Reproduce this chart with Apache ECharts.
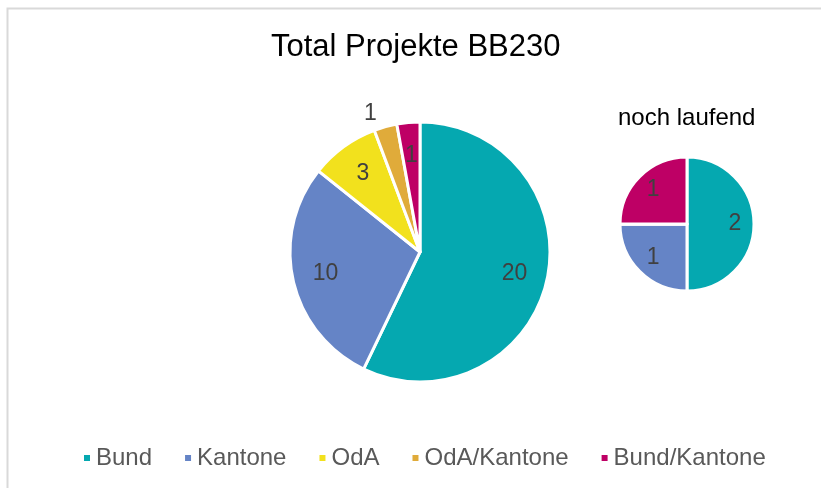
<!DOCTYPE html>
<html>
<head>
<meta charset="utf-8">
<script src="https://cdn.jsdelivr.net/npm/echarts@6/dist/echarts.min.js"></script>
<style>
  html, body { margin: 0; padding: 0; background: #fff; }
  #main { width: 821px; height: 488px; }
</style>
</head>
<body>
<div id="main"></div>
<script>
// categories and values
const categories = ['Bund', 'Kantone', 'OdA', 'OdA/Kantone', 'Bund/Kantone'];
const colors = ['#05A8B0', '#6584C6', '#F2E11D', '#E0AB3A', '#BE0065'];
const totalValues = [20, 10, 3, 1, 1];
const runningValues = [2, 1, 0, 0, 1];

let myChart = echarts.init(document.getElementById('main'));

function pieData(values, outsideIdx) {
  return categories.map(function (name, i) {
    let item = { name: name, value: values[i], itemStyle: { color: colors[i] } };
    if (i === outsideIdx) {
      item.label = { position: 'outside' };
      item.labelLine = { show: false, length: 14, length2: 0 };
    }
    return item;
  });
}

// overlay ring, transparent, only to put the labels further out like Excel does
function labelRing(values, center, radius, outsideIdx) {
  return {
    type: 'pie',
    center: center,
    radius: radius,
    silent: true,
    data: pieData(values, outsideIdx).map(function (d) {
      d.itemStyle = { color: 'rgba(0,0,0,0)' };
      return d;
    }),
    itemStyle: { color: 'rgba(0,0,0,0)', borderWidth: 0 },
    label: {
      show: true,
      position: 'inside',
      color: '#404040',
      fontSize: 23,
      fontFamily: 'Liberation Sans, Arial, sans-serif',
      formatter: function (p) { return p.value ? String(p.value) : ''; }
    },
    labelLine: { show: false },
    emphasis: { disabled: true },
    z: 3
  };
}

let option = {
  animation: false,
  backgroundColor: '#fff',
  title: [{
    text: 'Total Projekte BB230',
    left: 271,
    top: 32,
    padding: 0,
    textStyle: { fontSize: 31, fontWeight: 'normal', color: '#000', fontFamily: 'Liberation Sans, Arial, sans-serif' }
  }, {
    text: 'noch laufend',
    left: 618,
    top: 106,
    padding: 0,
    textStyle: { fontSize: 24, fontWeight: 'normal', color: '#000', fontFamily: 'Liberation Sans, Arial, sans-serif' }
  }],
  legend: {
    data: categories,
    left: 82,
    top: 446,
    padding: 0,
    icon: 'rect',
    itemWidth: 8,
    itemHeight: 8,
    itemGap: 31,
    textStyle: { fontSize: 24, color: '#595959', fontFamily: 'Liberation Sans, Arial, sans-serif' }
  },
  graphic: [{
    type: 'rect',
    shape: { x: 7.5, y: 8.5, width: 830, height: 500 },
    style: { fill: 'none', stroke: '#D9D9D9', lineWidth: 2 },
    silent: true
  }],
  series: [{
    type: 'pie',
    center: [420, 252],
    radius: [0, 130],
    data: pieData(totalValues, -1),
    itemStyle: { borderColor: '#fff', borderWidth: 3 },
    label: { show: false },
    labelLine: { show: false },
    emphasis: { disabled: true }
  },
  labelRing(totalValues, [420, 252], [58, 130], 3),
  {
    type: 'pie',
    center: [687, 224],
    radius: [0, 67],
    data: pieData(runningValues, -1),
    itemStyle: { borderColor: '#fff', borderWidth: 3 },
    label: { show: false },
    labelLine: { show: false },
    emphasis: { disabled: true }
  },
  labelRing(runningValues, [687, 224], [23, 67], -1)]
};
myChart.setOption(option);
</script>
</body>
</html>
